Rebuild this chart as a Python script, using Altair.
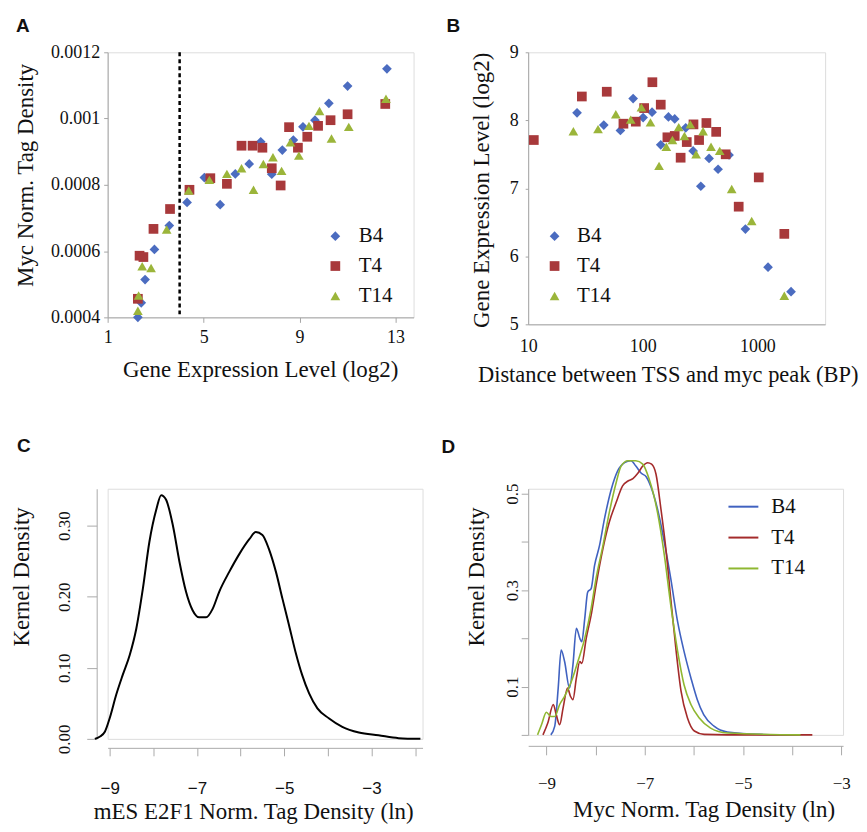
import altair as alt
import pandas as pd

SERIF = "Liberation Serif"
SANS = "Liberation Sans"

series_names = ["B4", "T4", "T14"]
scatter_colors = ["#4B6CC0", "#A8393B", "#9BB53A"]
line_colors = ["#4062C0", "#A42B2B", "#8FB731"]
shapes = ["diamond", "square", "triangle-up"]

# ---------------- Panel A : Myc tag density vs expression ----------------
a_b4_x = [2.26, 2.40, 2.56, 2.95, 3.57, 4.31, 5.03, 5.69, 6.32, 6.90, 7.38, 7.84, 8.28, 8.74, 9.14, 9.64, 10.22, 11.0, 12.64]
a_b4_y = [0.000400, 0.000444, 0.000514, 0.000605, 0.000677, 0.000747, 0.000822, 0.000740, 0.000833, 0.000863,
          0.000930, 0.000832, 0.000905, 0.000935, 0.000975, 0.000995, 0.001046, 0.001098, 0.001150]
a_t4_x = [2.26, 2.33, 2.49, 2.91, 3.60, 4.41, 5.28, 5.97, 6.58, 7.04, 7.45, 7.84, 8.21, 8.56, 8.93, 9.32, 9.77, 10.29, 11.0, 12.57]
a_t4_y = [0.000456, 0.000586, 0.000582, 0.000667, 0.000727, 0.000785, 0.000820, 0.000803, 0.000918, 0.000918,
          0.000912, 0.000850, 0.000798, 0.000974, 0.000912, 0.000945, 0.000978, 0.000995, 0.001013, 0.001044]
a_t14_x = [2.26, 2.29, 2.44, 2.81, 3.46, 4.38, 5.24, 5.97, 6.58, 7.08, 7.49, 7.89, 8.25, 8.62, 8.97, 9.39, 9.83, 10.33, 11.05, 12.60]
a_t14_y = [0.000420, 0.000466, 0.000554, 0.000549, 0.000665, 0.000783, 0.000815, 0.000833, 0.000850, 0.000785,
           0.000863, 0.000883, 0.000842, 0.000928, 0.000888, 0.000978, 0.001023, 0.000940, 0.000975, 0.001060]
a_threshold = [4.0]
a_x_ticks = [1, 5, 9, 13]
a_y_ticks = [0.0004, 0.0006, 0.0008, 0.001, 0.0012]

# ---------------- Panel B : expression vs TSS distance ----------------
b_b4_x = [26.7, 45.7, 63.8, 82.4, 100.7, 120.5, 143.5, 167.5, 190, 237, 275, 321, 379, 454, 566, 786, 1239, 1967]
b_b4_y = [8.11, 7.93, 7.85, 8.32, 8.04, 8.12, 7.64, 8.05, 8.02, 7.89, 7.55, 7.03, 7.44, 7.28, 7.49, 6.40, 5.84, 5.48]
b_t4_x = [11.2, 29.4, 48.5, 67.8, 86.9, 102.8, 121.3, 143.5, 164, 190, 214, 242, 277, 310, 359, 437, 529, 687, 1028, 1718]
b_t4_y = [7.71, 8.35, 8.42, 7.95, 7.98, 8.18, 8.56, 8.23, 7.75, 7.77, 7.45, 7.68, 7.94, 7.71, 7.96, 7.83, 7.50, 6.73, 7.16, 6.33]
b_t14_x = [24.8, 40.7, 58.2, 78.5, 97.3, 116.7, 138.7, 160.5, 181.5, 206, 231, 260, 292, 336, 394, 469, 597, 892, 1718]
b_t14_y = [7.84, 7.87, 8.09, 8.01, 8.19, 7.97, 7.33, 7.61, 7.71, 7.90, 7.77, 7.94, 7.50, 7.84, 7.61, 7.55, 6.99, 6.52, 5.42]
b_x_ticks = [10, 100, 1000]
b_y_ticks = [5, 6, 7, 8, 9]

# ---------------- Panel C : E2F1 kernel density ----------------
c_x = [-9.34, -9.23, -9.11, -9.0, -8.85, -8.70, -8.54, -8.39, -8.24, -8.09, -7.93, -7.82, -7.71, -7.55,
       -7.40, -7.25, -7.10, -6.95, -6.79, -6.64, -6.49, -6.26, -6.03, -5.80, -5.65, -5.50, -5.35, -5.19,
       -5.04, -4.89, -4.74, -4.59, -4.43, -4.24, -3.98, -3.67, -3.29, -2.84, -2.38, -1.88]
c_y = [0.0, 0.003, 0.010, 0.029, 0.062, 0.090, 0.118, 0.155, 0.211, 0.277, 0.323, 0.343, 0.337, 0.300,
       0.249, 0.207, 0.181, 0.171, 0.171, 0.183, 0.207, 0.235, 0.260, 0.281, 0.291, 0.287, 0.267, 0.235,
       0.197, 0.160, 0.122, 0.090, 0.064, 0.043, 0.029, 0.017, 0.009, 0.005, 0.001, 0.0]
c_x_ticks = [-9, -8, -7, -6, -5, -4, -3, -2]
c_y_ticks = [0.0, 0.1, 0.2, 0.3]

# ---------------- Panel D : Myc kernel densities ----------------
d_b4_x = [-8.91, -8.83, -8.76, -8.70, -8.63, -8.53, -8.46, -8.39, -8.32, -8.28, -8.22, -8.16, -8.09, -8.02,
          -7.92, -7.82, -7.68, -7.55, -7.41, -7.28, -7.18, -7.07, -6.97, -6.87, -6.74, -6.60, -6.47, -6.33,
          -6.20, -6.06, -5.93, -5.80, -5.59, -5.32, -4.64, -3.83]
d_b4_y = [0.0, 0.018, 0.097, 0.176, 0.152, 0.097, 0.145, 0.221, 0.200, 0.193, 0.241, 0.296, 0.303, 0.351,
          0.392, 0.447, 0.509, 0.547, 0.564, 0.568, 0.557, 0.542, 0.535, 0.513, 0.468, 0.399, 0.324, 0.234,
          0.173, 0.118, 0.073, 0.042, 0.018, 0.006, 0.001, 0.0]
d_t4_x = [-9.07, -8.97, -8.86, -8.80, -8.73, -8.66, -8.57, -8.51, -8.46, -8.39, -8.32, -8.28, -8.19, -8.09,
          -7.99, -7.85, -7.72, -7.58, -7.45, -7.34, -7.24, -7.14, -7.04, -6.94, -6.86, -6.77, -6.67, -6.57,
          -6.47, -6.36, -6.26, -6.13, -5.99, -5.79, -5.32, -3.59]
d_t4_y = [0.0, 0.025, 0.063, 0.042, 0.021, 0.056, 0.097, 0.080, 0.073, 0.118, 0.152, 0.148, 0.200, 0.248,
          0.310, 0.386, 0.441, 0.482, 0.516, 0.526, 0.531, 0.542, 0.557, 0.564, 0.561, 0.540, 0.468, 0.386,
          0.282, 0.173, 0.090, 0.035, 0.008, 0.001, 0.0, 0.0]
d_t14_x = [-9.18, -9.10, -9.0, -8.91, -8.83, -8.73, -8.63, -8.49, -8.36, -8.22, -8.09, -7.99, -7.85, -7.72,
           -7.58, -7.48, -7.34, -7.18, -7.04, -6.91, -6.74, -6.60, -6.47, -6.33, -6.20, -6.06, -5.89, -5.66,
           -5.32, -3.83]
d_t14_y = [0.0, 0.021, 0.047, 0.038, 0.038, 0.063, 0.080, 0.111, 0.152, 0.200, 0.262, 0.324, 0.392, 0.461,
           0.523, 0.557, 0.568, 0.568, 0.561, 0.530, 0.461, 0.372, 0.269, 0.173, 0.104, 0.063, 0.035, 0.014,
           0.004, 0.0]
d_x_ticks = [-9, -8, -7, -6, -5, -4, -3]
d_y_ticks = [0.0, 0.1, 0.2, 0.3, 0.4, 0.5]


def frame(groups):
    rows = []
    for name, xs, ys in groups:
        for i, (xv, yv) in enumerate(zip(xs, ys)):
            rows.append({"series": name, "x": xv, "y": yv, "order": i})
    return pd.DataFrame(rows)


dfA = frame([("B4", a_b4_x, a_b4_y), ("T4", a_t4_x, a_t4_y), ("T14", a_t14_x, a_t14_y)])
dfB = frame([("B4", b_b4_x, b_b4_y), ("T4", b_t4_x, b_t4_y), ("T14", b_t14_x, b_t14_y)])
dfC = frame([("E2F1", c_x, c_y)])
dfD = frame([("B4", d_b4_x, d_b4_y), ("T4", d_t4_x, d_t4_y), ("T14", d_t14_x, d_t14_y)])


def ax(**kw):
    base = dict(grid=False, labelFlush=False, labelOverlap=False, labelFont=SERIF, labelFontSize=18,
                labelColor="#111111", titleFont=SERIF, titleFontSize=23, titleFontWeight="normal",
                titleColor="#111111", domainColor="#a6a6a6", tickColor="#a6a6a6", titleAlign="center",
                titleBaseline="middle")
    base.update(kw)
    return alt.Axis(**base)


def panel_title(letter, dx, offset):
    return alt.TitleParams(text=letter, anchor="start", frame="group", dx=dx, offset=offset,
                           font=SANS, fontSize=19, fontWeight="bold", color="#111111")


def legend(x, y, offset):
    return alt.Legend(title=None, orient="none", legendX=x, legendY=y, labelFont=SERIF, labelFontSize=21,
                      labelColor="#111111", symbolSize=95, rowPadding=8, labelOffset=offset,
                      symbolStrokeWidth=0, padding=0)


# ----- A -----
legA = legend(218, 174, 13)
scatA = alt.Chart(dfA).mark_point(filled=True, size=95, opacity=1).encode(
    x=alt.X("x:Q", scale=alt.Scale(domain=[1, 13.75], nice=False, zero=False),
            axis=ax(values=a_x_ticks, title="Gene Expression Level (log2)", tickSize=5, labelPadding=6,
                    titleX=153, titleY=52)),
    y=alt.Y("y:Q", scale=alt.Scale(domain=[0.0004, 0.0012], nice=False, zero=False),
            axis=ax(values=a_y_ticks, labelExpr="format(datum.value, '.4~f')", title="Myc Norm. Tag Density",
                    tickSize=4, labelPadding=4, titleX=-82, titleY=123)),
    color=alt.Color("series:N", scale=alt.Scale(domain=series_names, range=scatter_colors), legend=legA),
    shape=alt.Shape("series:N", scale=alt.Scale(domain=series_names, range=shapes), legend=legA),
)
ruleA = alt.Chart(pd.DataFrame({"x": a_threshold})).mark_rule(
    color="black", strokeDash=[4, 3], strokeWidth=2.5).encode(x="x:Q")
A = alt.layer(ruleA, scatA).properties(width=307, height=266, title=panel_title("A", -92, 7))

# ----- B -----
legB = legend(16, 174, 12)
B = alt.Chart(dfB).mark_point(filled=True, size=95, opacity=1).encode(
    x=alt.X("x:Q", scale=alt.Scale(type="log", domain=[10, 3900], nice=False),
            axis=ax(values=b_x_ticks, format="d", title="Distance between TSS and myc peak (BP)", tickSize=0,
                    labelPadding=13, titleX=140, titleY=50, titleFontSize=22.5)),
    y=alt.Y("y:Q", scale=alt.Scale(domain=[5, 9], nice=False, zero=False),
            axis=ax(values=b_y_ticks, title="Gene Expression Level (log2)", tickSize=3, labelPadding=7,
                    titleX=-47, titleY=138)),
    color=alt.Color("series:N", scale=alt.Scale(domain=series_names, range=scatter_colors), legend=legB),
    shape=alt.Shape("series:N", scale=alt.Scale(domain=series_names, range=shapes), legend=legB),
).properties(width=298, height=273, title=panel_title("B", -82, 7))

# ----- C -----
C = alt.Chart(dfC).mark_line(color="black", strokeWidth=2, interpolate="monotone", clip=False).encode(
    x=alt.X("x:Q", scale=alt.Scale(domain=[-9.046, -1.831], nice=False, zero=False),
            axis=ax(values=c_x_ticks, labelExpr="abs(datum.value % 2) == 1 ? datum.label : ''",
                    labelFont=SANS, labelFontSize=17, title="mES E2F1 Norm. Tag Density (ln)",
                    tickSize=8, labelPadding=25, offset=9, domainColor="#aaaaaa", tickColor="#aaaaaa",
                    titleX=146, titleY=64)),
    y=alt.Y("y:Q", scale=alt.Scale(domain=[0, 0.352], nice=False, zero=False),
            axis=ax(values=c_y_ticks, format=".2f", labelAngle=270, labelAlign="center", labelBaseline="middle",
                    labelFontSize=17, title="Kernel Density", tickSize=10, labelPadding=22, offset=11,
                    domainColor="#aaaaaa", tickColor="#aaaaaa", titleX=-75, titleY=88)),
    order="order:Q",
).properties(width=316, height=251, title=panel_title("C", -91, 33))

# ----- D -----
D = alt.Chart(dfD).mark_line(strokeWidth=1.6, interpolate="monotone", clip=False).encode(
    x=alt.X("x:Q", scale=alt.Scale(domain=[-9.371, -2.965], nice=False, zero=False),
            axis=ax(values=d_x_ticks, labelExpr="abs(datum.value % 2) == 1 ? datum.label : ''",
                    labelFontSize=17, title="Myc Norm. Tag Density (ln)", tickSize=9, labelPadding=21,
                    offset=11, domainColor="#aaaaaa", tickColor="#aaaaaa", titleX=176, titleY=64)),
    y=alt.Y("y:Q", scale=alt.Scale(domain=[0, 0.51], nice=False, zero=False),
            axis=ax(values=d_y_ticks,
                    labelExpr="(abs(datum.value - 0.1) < 0.01 || abs(datum.value - 0.3) < 0.01 || abs(datum.value - 0.5) < 0.01) ? format(datum.value, '.1f') : ''",
                    labelAngle=270, labelAlign="center", labelBaseline="middle", labelFontSize=17,
                    title="Kernel Density", tickSize=7, labelPadding=9, domainColor="#aaaaaa",
                    tickColor="#aaaaaa", titleX=-52, titleY=88)),
    color=alt.Color("series:N", scale=alt.Scale(domain=series_names, range=line_colors),
                    legend=alt.Legend(title=None, orient="none", legendX=200, legendY=2, labelFont=SERIF,
                                      labelFontSize=21, labelColor="#111111", symbolType="stroke",
                                      symbolSize=900, symbolStrokeWidth=2, rowPadding=5, labelOffset=12,
                                      padding=0)),
    detail="series:N",
    order="order:Q",
).properties(width=316, height=247, title=panel_title("D", -87, 1))

chart = alt.concat(
    A, B, C, D, columns=2, spacing={"row": 165, "column": 106}, bounds="flush",
    align={"row": "all", "column": "none"},
).resolve_scale(
    color="independent", shape="independent"
).properties(
    padding={"left": 2, "top": 7, "right": 0, "bottom": 0}
).configure_view(stroke="transparent").configure(background="white")

chart.save("out.html", embed_options={"renderer": "svg", "actions": False})
